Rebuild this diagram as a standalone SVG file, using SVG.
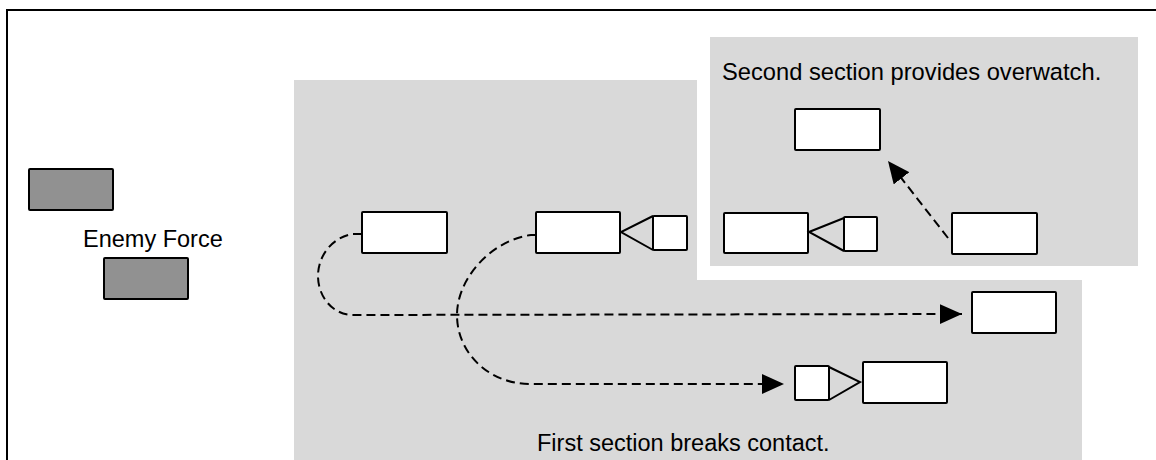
<svg xmlns="http://www.w3.org/2000/svg" width="1156" height="460" viewBox="0 0 1156 460">
<defs>
<style>
.box{fill:#ffffff;stroke:#000000;stroke-width:2;}
.enemy{fill:#919191;stroke:#000000;stroke-width:2;}
.tri{fill:none;stroke:#000000;stroke-width:2;stroke-linejoin:miter;}
.dash{fill:none;stroke:#000000;stroke-width:2;stroke-dasharray:9 5;}
.lbl{font-family:"Liberation Sans",Arial,sans-serif;font-size:23.5px;fill:#000000;}
</style>
<marker id="ah" markerUnits="userSpaceOnUse" markerWidth="22" markerHeight="20" viewBox="0 0 20 18" refX="20" refY="9" orient="auto">
<path d="M0,0 L20,9 L0,18 Z" fill="#000000"/>
</marker>
</defs>
<rect x="0" y="0" width="1156" height="460" fill="#ffffff"/>
<rect x="7" y="10" width="1160" height="470" fill="none" stroke="#000000" stroke-width="2"/>
<g id="panel-first">
<rect x="294" y="80" width="788" height="385" fill="#d9d9d9"/>
<text class="lbl" x="537" y="451">First section breaks contact.</text>
</g>
<g id="panel-second">
<rect x="697" y="24" width="455" height="256" fill="#ffffff"/>
<rect x="710" y="37" width="428" height="229" fill="#d9d9d9"/>
<text class="lbl" x="722" y="80" style="font-size:23.7px">Second section provides overwatch.</text>
</g>
<g id="enemy-force">
<rect class="enemy" x="29" y="169" width="84" height="41" rx="1"/>
<text class="lbl" x="83" y="247">Enemy Force</text>
<rect class="enemy" x="104" y="258" width="84" height="41" rx="1"/>
</g>
<g id="node-a"><rect class="box" x="362" y="212" width="85" height="41" rx="1"/></g>
<g id="node-b">
<rect class="box" x="536" y="212" width="84" height="41" rx="1"/>
<polyline class="tri" points="653,216 621,232 653,250"/>
<rect class="box" x="653" y="216" width="34" height="34" rx="1"/>
</g>
<g id="node-c">
<rect class="box" x="724" y="213" width="84" height="40" rx="1"/>
<polyline class="tri" points="844,218 809,232 844,251"/>
<rect class="box" x="844" y="217" width="33" height="34" rx="1"/>
</g>
<g id="node-d"><rect class="box" x="795" y="109" width="85" height="41" rx="1"/></g>
<g id="node-e"><rect class="box" x="952" y="213" width="85" height="41" rx="1"/></g>
<g id="node-f"><rect class="box" x="972" y="292" width="84" height="41" rx="1"/></g>
<g id="node-g">
<rect class="box" x="795" y="366" width="34" height="34" rx="1"/>
<polyline class="tri" points="829,367 860,382 829,400"/>
<rect class="box" x="863" y="362" width="84" height="41" rx="1"/>
</g>
<g id="connectors">
<path class="dash" d="M362,234 L353,234 C333,237 318,255 318,276 C318,297 333,315 353,315 L962,314" marker-end="url(#ah)"/>
<path class="dash" d="M536,235 L531,235 C492,240 457,278 457,315 C457,354 490,384 530,384 L784,384" marker-end="url(#ah)"/>
<path class="dash" d="M948,238 L888,161" marker-end="url(#ah)"/>
</g>
</svg>
